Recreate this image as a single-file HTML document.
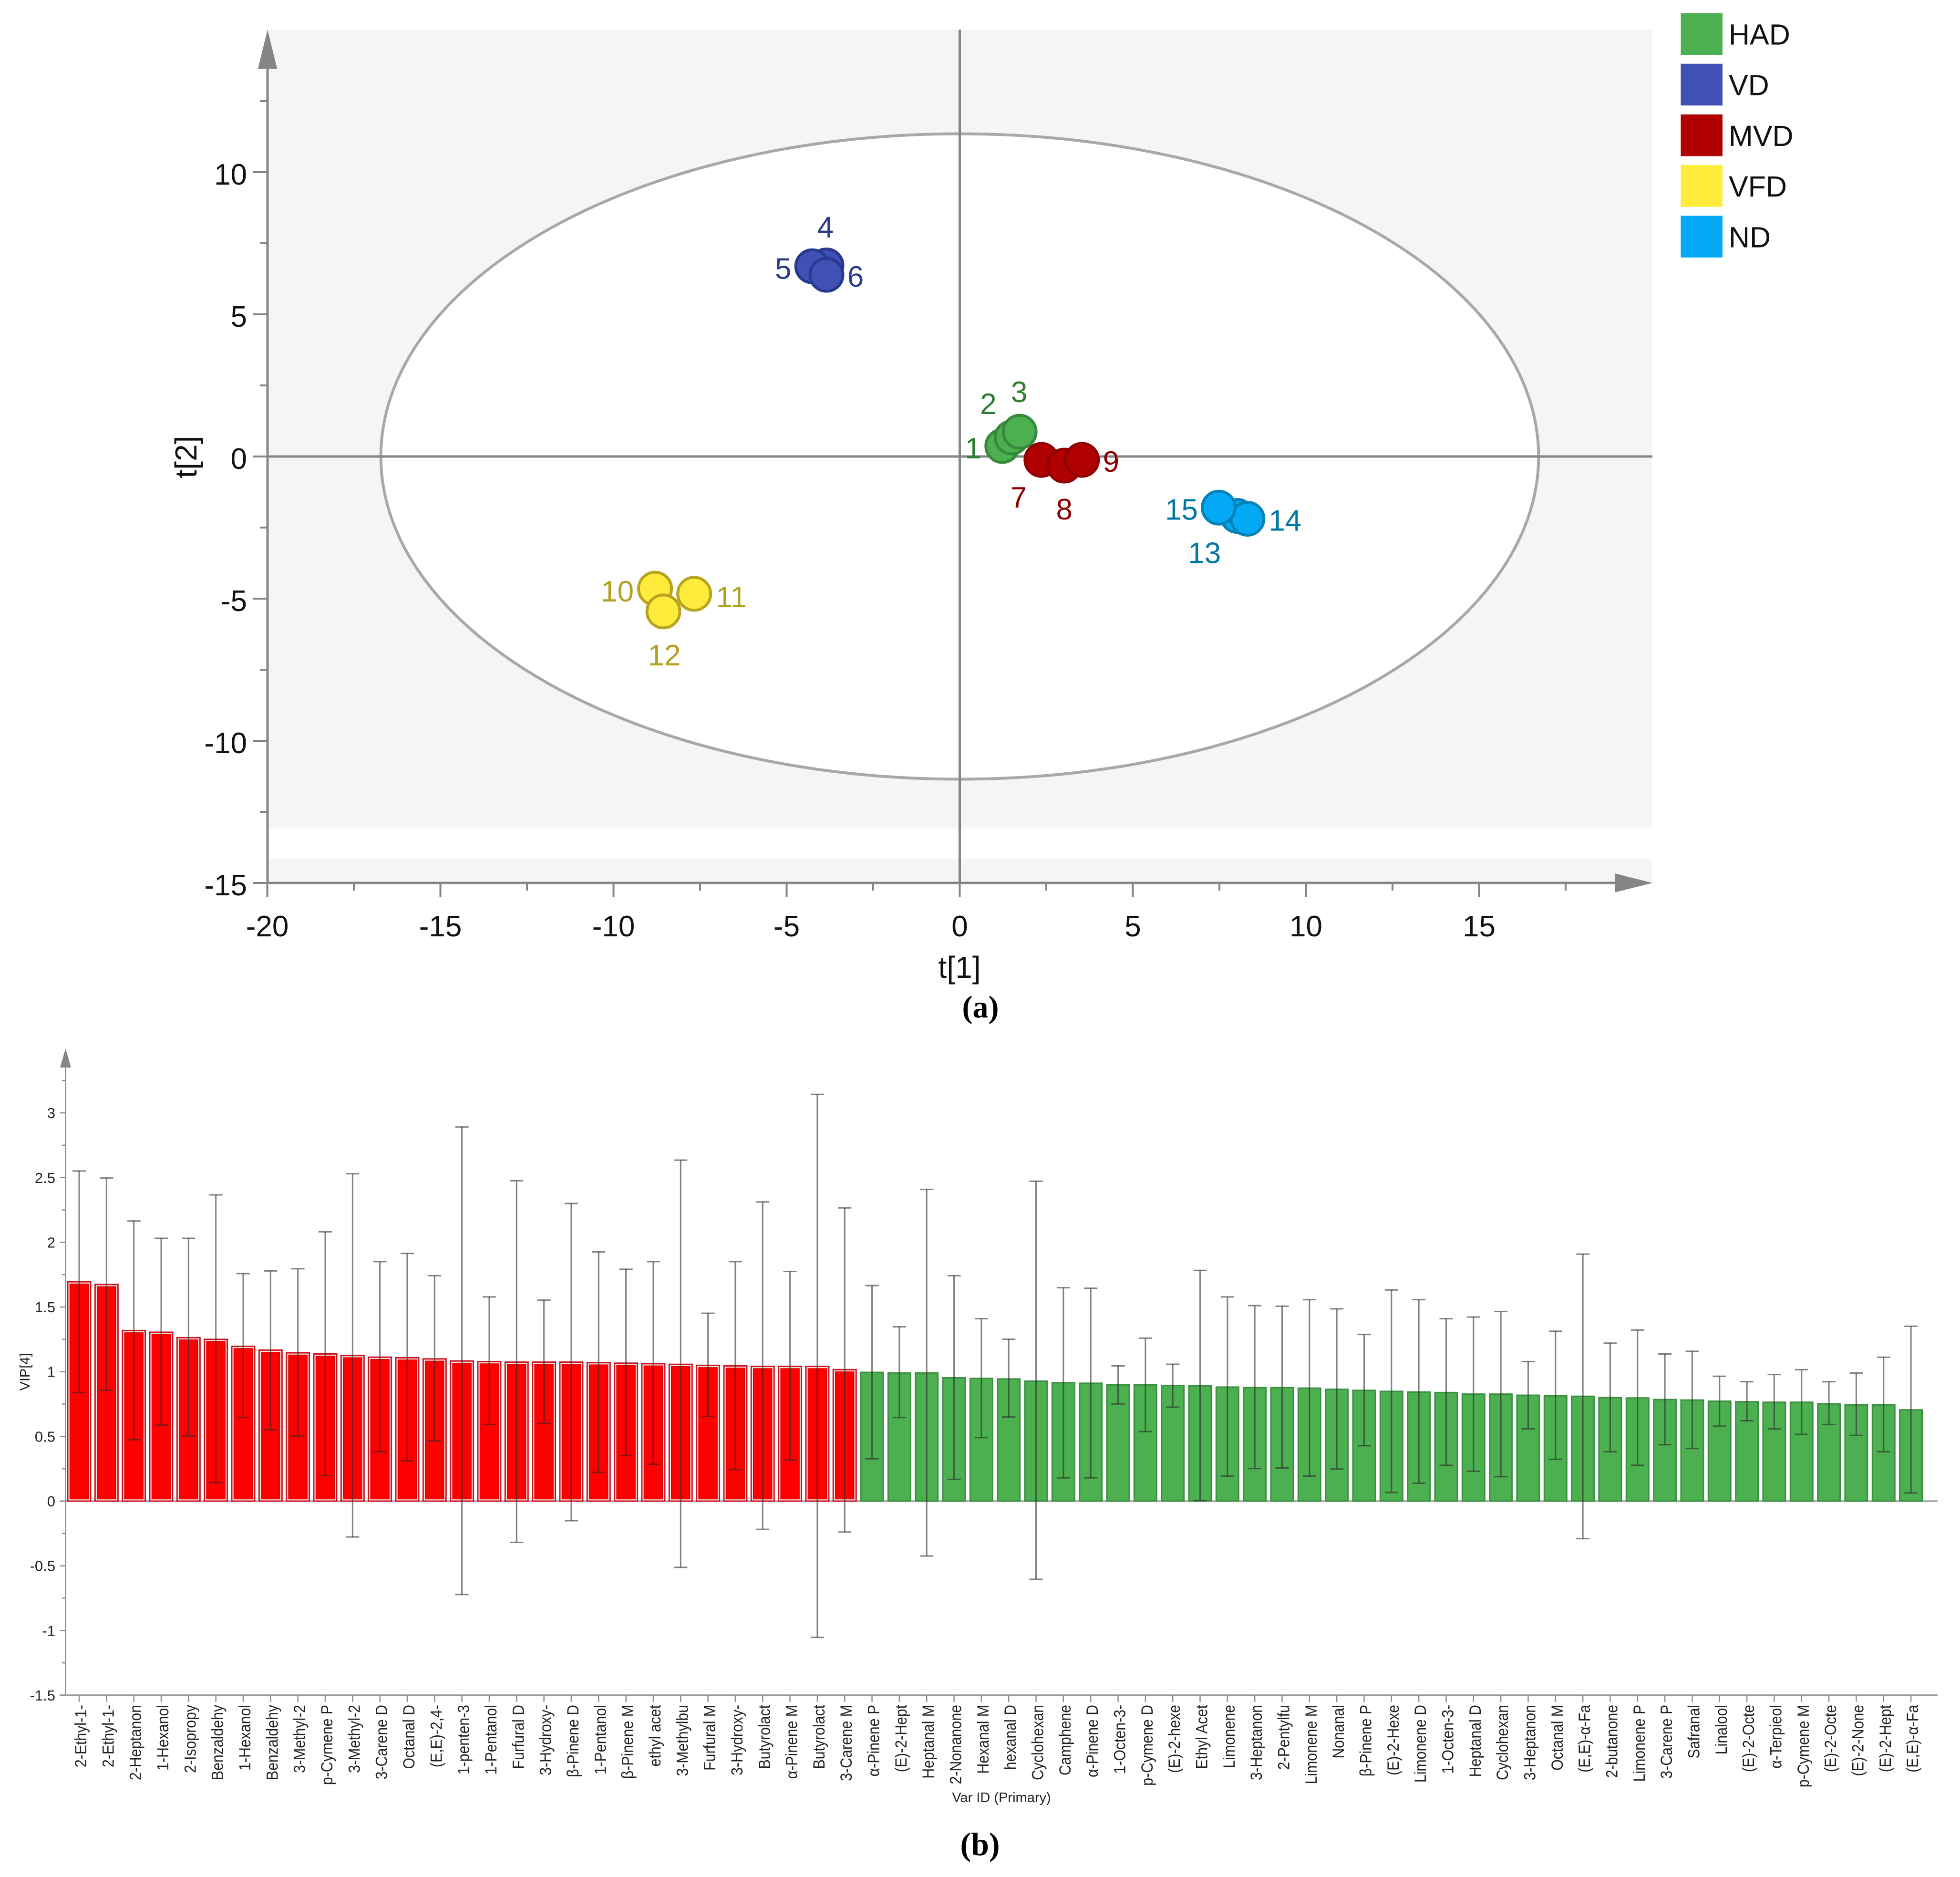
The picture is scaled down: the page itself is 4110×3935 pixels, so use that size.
<!DOCTYPE html>
<html lang="en">
<head>
<meta charset="utf-8">
<title>PCA score plot and VIP chart</title>
<style>
html,body{margin:0;padding:0;background:#fff;}
svg{display:block;font-family:"Liberation Sans","DejaVu Sans",sans-serif;}
</style>
</head>
<body>
<svg id="figure" xmlns="http://www.w3.org/2000/svg" width="4110" height="3935" viewBox="0 0 4110 3935">
  <g id="score-plot"></g>
  <g id="vip-plot"></g>
  <text x="2056" y="2133" text-anchor="middle" font-family="'Liberation Serif',serif" font-size="66" font-weight="bold">(a)</text>
  <text x="2055" y="3889" text-anchor="middle" font-family="'Liberation Serif',serif" font-size="68" font-weight="bold">(b)</text>
</svg>
<script>
// ---------- Score plot data ----------
const sampleIds = [1,2,3,4,5,6,7,8,9,10,11,12,13,14,15];
const sampleT1 = [1.23,1.5,1.73,-3.85,-4.26,-3.85,2.36,3.02,3.53,-8.8,-7.67,-8.56,8.02,8.31,7.48];
const sampleT2 = [0.37,0.67,0.87,6.72,6.69,6.39,-0.12,-0.32,-0.12,-4.65,-4.83,-5.45,-2.09,-2.19,-1.8];
const sampleGroup = [0,0,0,1,1,1,2,2,2,3,3,3,4,4,4];
const groupNames = ["HAD","VD","MVD","VFD","ND"];
const scoreXTicks = [-20,-15,-10,-5,0,5,10,15];
const scoreYTicks = [-15,-10,-5,0,5,10];
const scoreXMinor = [-17.5,-12.5,-7.5,-2.5,2.5,7.5,12.5,17.5];
const scoreYMinor = [-12.5,-7.5,-2.5,2.5,7.5,12.5];
const ellipseRadiusT1 = 16.72;
const ellipseRadiusT2 = 11.35;

// ---------- VIP data ----------
const vipCategories = ["2-Ethyl-1-","2-Ethyl-1-","2-Heptanon","1-Hexanol","2-Isopropy","Benzaldehy","1-Hexanol","Benzaldehy","3-Methyl-2","p-Cymene P","3-Methyl-2","3-Carene D","Octanal D","(E,E)-2,4-","1-penten-3","1-Pentanol","Furfural D","3-Hydroxy-","β-Pinene D","1-Pentanol","β-Pinene M","ethyl acet","3-Methylbu","Furfural M","3-Hydroxy-","Butyrolact","α-Pinene M","Butyrolact","3-Carene M","α-Pinene P","(E)-2-Hept","Heptanal M","2-Nonanone","Hexanal M","hexanal D","Cyclohexan","Camphene","α-Pinene D","1-Octen-3-","p-Cymene D","(E)-2-hexe","Ethyl Acet","Limonene","3-Heptanon","2-Pentylfu","Limonene M","Nonanal","β-Pinene P","(E)-2-Hexe","Limonene D","1-Octen-3-","Heptanal D","Cyclohexan","3-Heptanon","Octanal M","(E,E)-α-Fa","2-butanone","Limonene P","3-Carene P","Safranal","Linalool","(E)-2-Octe","α-Terpieol","p-Cymene M","(E)-2-Octe","(E)-2-None","(E)-2-Hept","(E,E)-α-Fa"];
const vipValues = [1.695,1.674,1.318,1.305,1.263,1.25,1.196,1.167,1.146,1.137,1.125,1.112,1.108,1.099,1.083,1.078,1.074,1.074,1.074,1.07,1.066,1.062,1.057,1.049,1.045,1.041,1.041,1.041,1.016,0.995,0.99,0.99,0.953,0.948,0.944,0.927,0.915,0.911,0.898,0.898,0.894,0.89,0.881,0.877,0.877,0.873,0.864,0.856,0.848,0.843,0.839,0.827,0.827,0.818,0.814,0.81,0.8,0.797,0.785,0.781,0.772,0.768,0.764,0.764,0.751,0.743,0.743,0.705];
const vipUpper = [2.551,2.497,2.165,2.031,2.031,2.367,1.758,1.779,1.796,2.081,2.53,1.851,1.914,1.742,2.891,1.578,2.476,1.553,2.3,1.926,1.792,1.851,2.635,1.452,1.851,2.312,1.775,3.143,2.266,1.666,1.347,2.409,1.742,1.41,1.251,2.472,1.649,1.645,1.045,1.259,1.058,1.783,1.578,1.511,1.506,1.557,1.486,1.288,1.632,1.557,1.41,1.423,1.465,1.078,1.313,1.909,1.221,1.322,1.137,1.158,0.965,0.923,0.978,1.016,0.923,0.99,1.112,1.351];
const vipLower = [0.839,0.856,0.474,0.587,0.504,0.143,0.646,0.55,0.504,0.197,-0.277,0.382,0.311,0.466,-0.722,0.592,-0.319,0.6,-0.151,0.222,0.352,0.285,-0.512,0.655,0.243,-0.218,0.319,-1.053,-0.239,0.327,0.646,-0.424,0.168,0.491,0.65,-0.604,0.18,0.18,0.751,0.537,0.726,0.004,0.193,0.252,0.256,0.193,0.248,0.428,0.067,0.138,0.277,0.231,0.189,0.558,0.323,-0.29,0.382,0.277,0.436,0.407,0.579,0.621,0.558,0.516,0.592,0.508,0.382,0.063];
const vipHighlightedCount = 29;
const vipYTicks = [-1.5,-1,-0.5,0,0.5,1,1.5,2,2.5,3];
const vipYMinor = [-1.25,-0.75,-0.25,0.25,0.75,1.25,1.75,2.25,2.75,3.25];

// ---------- Style and layout ----------
const NS = "http://www.w3.org/2000/svg";
const groupFill = ["#4CAF50","#3F51B5","#B00000","#FFEB3B","#03A9F4"];
const groupStroke = ["#378b3c","#2a3990","#930000","#b8a41f","#0582b8"];
const groupLabel = ["#2f7d33","#2b3a8c","#8c0000","#b3a01f","#0277a6"];
// label offset from its marker, in px
const labelDx = [-61,-49,-1,-2,-61,61,-48,0,61,-79,78,2,-69,79,-78];
const labelDy = [3,-72,-85,-82,3,2,77,90,2,4,5,90,76,2,2];

function sx(v){ return 2012.5 + 72.6 * v; }
function sy(v){ return 957 - 59.6 * v; }
function bx(i){ return 166 + 57.33 * i; }
function vy(v){ return 3147 - 271.3 * v; }

function mk(tag, attrs, parent){
  const el = document.createElementNS(NS, tag);
  for (const k in attrs) el.setAttribute(k, attrs[k]);
  parent.appendChild(el);
  return el;
}
const score = document.getElementById("score-plot");
const vip = document.getElementById("vip-plot");
const AX = "#858585";
let el;

// ---------- Score plot: background ----------
el = mk("rect",{x:561,y:62,width:2904,height:1789,fill:"#f5f5f5"},score);


el = mk("rect",{x:561,y:sy(-13.09),width:2904,height:64,fill:"#ffffff"},score);


el = mk("ellipse",{cx:sx(0),cy:sy(0),rx:72.6*ellipseRadiusT1,ry:59.6*ellipseRadiusT2,fill:"#fff",stroke:"#a8a8a8","stroke-width":6},score);


el = mk("line",{x1:561,x2:3465,y1:sy(0),y2:sy(0),stroke:AX,"stroke-width":5},score);


el = mk("line",{x1:sx(0),x2:sx(0),y1:62,y2:1851,stroke:AX,"stroke-width":5},score);



// ---------- Score plot: axes ----------
el = mk("line",{x1:561,x2:3400,y1:1851,y2:1851,stroke:AX,"stroke-width":5},score);


el = mk("line",{x1:561,x2:561,y1:130,y2:1851,stroke:AX,"stroke-width":5},score);


el = mk("polygon",{points:"561,62 581,144 541,144",fill:AX},score);


el = mk("polygon",{points:"3465,1851 3386,1871 3386,1831",fill:AX},score);



scoreXTicks.forEach(function(t){
  let e = mk("line",{x1:sx(t),x2:sx(t),y1:1851,y2:1881,stroke:AX,"stroke-width":4},score);
  
  
  e = mk("text",{x:sx(t),y:1963,"text-anchor":"middle","font-size":62,fill:"#111"},score);
  
  
  e.textContent = t;
});
scoreXMinor.forEach(function(t){
  const e = mk("line",{x1:sx(t),x2:sx(t),y1:1851,y2:1867,stroke:AX,"stroke-width":4},score);
  
  
});
scoreYTicks.forEach(function(t){
  let e = mk("line",{x1:531,x2:561,y1:sy(t),y2:sy(t),stroke:AX,"stroke-width":4},score);
  
  
  e = mk("text",{x:518,y:sy(t)+26,"text-anchor":"end","font-size":62,fill:"#111"},score);
  
  
  e.textContent = t;
});
scoreYMinor.forEach(function(t){
  const e = mk("line",{x1:545,x2:561,y1:sy(t),y2:sy(t),stroke:AX,"stroke-width":4},score);
  
  
});
el = mk("text",{x:2012,y:2050,"text-anchor":"middle","font-size":64,fill:"#111"},score);


el.textContent = "t[1]";
el = mk("text",{transform:"translate(412,958) rotate(-90)","text-anchor":"middle","font-size":64,fill:"#111"},score);


el.textContent = "t[2]";

// ---------- Score plot: points ----------
sampleIds.forEach(function(id,i){
  const g = sampleGroup[i];
  const c = mk("circle",{cx:sx(sampleT1[i]),cy:sy(sampleT2[i]),r:34.5,fill:groupFill[g],stroke:groupStroke[g],"stroke-width":6},score);
  
  
});
sampleIds.forEach(function(id,i){
  const g = sampleGroup[i];
  const t = mk("text",{x:sx(sampleT1[i])+labelDx[i],y:sy(sampleT2[i])+labelDy[i]+23,"text-anchor":"middle","font-size":62,fill:groupLabel[g]},score);
  
  
  t.textContent = id;
});

// ---------- Legend ----------
groupNames.forEach(function(name,i){
  const top = 27.5 + 106.2 * i;
  const r = mk("rect",{x:3524.5,y:top,width:87.5,height:87.5,fill:groupFill[i]},score);
  
  
  const t = mk("text",{x:3625,y:top+66,"font-size":61,fill:"#111"},score);
  
  
  t.textContent = name;
});

// ---------- VIP chart: axes ----------
el = mk("line",{x1:125,x2:4063,y1:vy(0),y2:vy(0),stroke:"#8f8f8f","stroke-width":3},vip);


el = mk("line",{x1:125,x2:4063,y1:vy(-1.5),y2:vy(-1.5),stroke:"#9a9a9a","stroke-width":3.5},vip);


el = mk("line",{x1:137.5,x2:137.5,y1:2230,y2:vy(-1.5),stroke:"#8f8f8f","stroke-width":3},vip);


el = mk("polygon",{points:"137.5,2198 149,2238 126,2238",fill:"#858585"},vip);



vipYTicks.forEach(function(t){
  let e = mk("line",{x1:125,x2:137.5,y1:vy(t),y2:vy(t),stroke:"#8f8f8f","stroke-width":2.5},vip);
  
  
  e = mk("text",{x:116,y:vy(t)+11,"text-anchor":"end","font-size":31,fill:"#222"},vip);
  
  
  e.textContent = t;
});
vipYMinor.forEach(function(t){
  const e = mk("line",{x1:130,x2:137.5,y1:vy(t),y2:vy(t),stroke:"#8f8f8f","stroke-width":2.5},vip);
  
  
});
el = mk("text",{transform:"translate(62,2876) rotate(-90)","text-anchor":"middle","font-size":29,fill:"#222"},vip);


el.textContent = "VIP[4]";
el = mk("text",{x:2100,y:3778,"text-anchor":"middle","font-size":29,fill:"#222"},vip);


el.textContent = "Var ID (Primary)";

// ---------- VIP chart: bars ----------
vipCategories.forEach(function(name,i){
  const x = bx(i), top = vy(vipValues[i]), base = vy(0);
  if (i < vipHighlightedCount) {
    const o = mk("rect",{x:x-24,y:top,width:48,height:base-top,fill:"#f3e6e6",stroke:"#cc1420","stroke-width":3},vip);
    
    
    const b = mk("rect",{x:x-19.5,y:top+4.5,width:39,height:base-top-9,fill:"#ff0000",stroke:"#d40000","stroke-width":1.5},vip);
    
    
  } else {
    const b = mk("rect",{x:x-23.5,y:top,width:47,height:base-top,fill:"#4CAF50",stroke:"#3c8f40","stroke-width":3},vip);
    
    
  }
});
vipCategories.forEach(function(name,i){
  const x = bx(i), hi = vy(vipUpper[i]), lo = vy(vipLower[i]);
  const stem = mk("line",{x1:x,x2:x,y1:hi,y2:lo,stroke:"rgba(40,40,40,0.58)","stroke-width":3},vip);
  
  
  const capTop = mk("line",{x1:x-14,x2:x+14,y1:hi,y2:hi,stroke:"rgba(40,40,40,0.58)","stroke-width":3},vip);
  
  
  const capLow = mk("line",{x1:x-14,x2:x+14,y1:lo,y2:lo,stroke:"rgba(40,40,40,0.58)","stroke-width":3},vip);
  
  
  const tick = mk("line",{x1:x,x2:x,y1:vy(-1.5),y2:vy(-1.5)+14,stroke:"#8f8f8f","stroke-width":2.5},vip);
  
  
  const lab = mk("text",{transform:"translate("+(x+15)+",3574) rotate(-90) scale(0.89,1)","text-anchor":"end","font-size":34,fill:"#222"},vip);
  
  
  lab.textContent = name;
});
</script>
</body>
</html>
